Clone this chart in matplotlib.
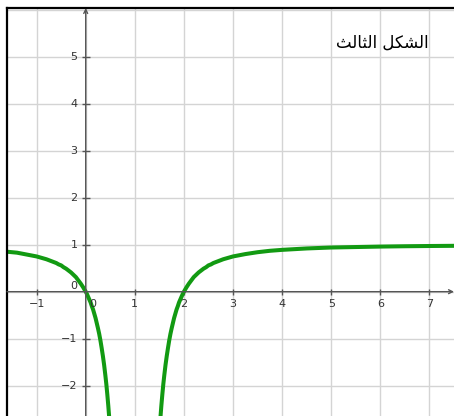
import matplotlib
matplotlib.use("Agg")
import matplotlib.pyplot as plt

# curve samples, left branch (x < 1) and right branch (x > 1)
left_x = [-1.6, -1.4, -1.2, -1.1, -1.0, -0.9, -0.8, -0.7, -0.65, -0.6, -0.55, -0.5,
          -0.45, -0.4, -0.35, -0.3, -0.25, -0.2, -0.15, -0.1, -0.05, 0.0, 0.025,
          0.05, 0.075, 0.1, 0.125, 0.15, 0.175, 0.2, 0.225, 0.25, 0.275, 0.3,
          0.325, 0.35, 0.375, 0.4, 0.42, 0.44, 0.46, 0.48]
left_y = [0.85, 0.83, 0.79, 0.77, 0.75, 0.72, 0.69, 0.65, 0.63, 0.61, 0.58, 0.56,
          0.52, 0.49, 0.45, 0.41, 0.36, 0.31, 0.24, 0.17, 0.09, 0.0, -0.05,
          -0.11, -0.17, -0.23, -0.31, -0.38, -0.47, -0.56, -0.67, -0.78, -0.90, -1.04,
          -1.20, -1.37, -1.56, -1.78, -1.97, -2.19, -2.43, -2.70]
right_x = [1.52, 1.54, 1.56, 1.58, 1.6, 1.625, 1.65, 1.675, 1.7, 1.725, 1.75, 1.775,
           1.8, 1.825, 1.85, 1.875, 1.9, 1.925, 1.95, 1.975, 2.0, 2.05, 2.1, 2.15,
           2.2, 2.25, 2.3, 2.35, 2.4, 2.45, 2.5, 2.55, 2.6, 2.7, 2.8, 2.9, 3.0, 3.1,
           3.25, 3.5, 3.75, 4.0, 4.25, 4.5, 5.0, 5.5, 6.0, 6.5, 7.0, 7.5]
right_y = [-2.70, -2.43, -2.19, -1.97, -1.78, -1.56, -1.37, -1.20, -1.04, -0.90, -0.78,
           -0.67, -0.56, -0.47, -0.38, -0.31, -0.23, -0.17, -0.11, -0.05, 0.0, 0.09,
           0.17, 0.24, 0.31, 0.36, 0.41, 0.45, 0.49, 0.52, 0.56, 0.58, 0.61, 0.65,
           0.69, 0.72, 0.75, 0.77, 0.80, 0.84, 0.87, 0.89, 0.905, 0.92, 0.94, 0.95,
           0.96, 0.967, 0.972, 0.976]

x_ticks = [-1, 1, 2, 3, 4, 5, 6, 7]
y_ticks = [-2, -1, 1, 2, 3, 4, 5]
title = "الشكل الثالث"

# contextual forms: isolated, final, initial, medial
FORMS = {
    "ا": ("\uFE8D", "\uFE8E", None, None),
    "ل": ("\uFEDD", "\uFEDE", "\uFEDF", "\uFEE0"),
    "ش": ("\uFEB5", "\uFEB6", "\uFEB7", "\uFEB8"),
    "ك": ("\uFED9", "\uFEDA", "\uFEDB", "\uFEDC"),
    "ث": ("\uFE99", "\uFE9A", "\uFE9B", "\uFE9C"),
}


def shape_arabic(text):
    out = []
    for i, ch in enumerate(text):
        if ch not in FORMS:
            out.append(ch)
            continue
        prev_ok = i > 0 and text[i - 1] in FORMS and FORMS[text[i - 1]][2] is not None
        next_ok = (i < len(text) - 1 and text[i + 1] in FORMS
                   and FORMS[ch][2] is not None)
        iso, fin, ini, med = FORMS[ch]
        if prev_ok and next_ok:
            out.append(med)
        elif prev_ok:
            out.append(fin)
        elif next_ok:
            out.append(ini)
        else:
            out.append(iso)
    return "".join(reversed(out))


W, H = 454, 416
fig = plt.figure(figsize=(W / 100, H / 100), dpi=100)
ax = fig.add_axes([7 / W, 0, 447 / W, 408 / H])

xmin, xmax = -1.603, 7.5
ymin, ymax = -2.645, 6.036
ax.set_xlim(xmin, xmax)
ax.set_ylim(ymin, ymax)

ax.set_xticks(range(-1, 8))
ax.set_yticks(range(-2, 7))
ax.grid(True, color="#d4d4d4", linewidth=1.0)
ax.set_axisbelow(True)
ax.tick_params(length=0, labelbottom=False, labelleft=False)
for side in ("right", "bottom"):
    ax.spines[side].set_visible(False)
for side in ("left", "top"):
    ax.spines[side].set_color("black")
    ax.spines[side].set_linewidth(1.6)

# coordinate axes with arrow heads
axis_col = "#555555"
ax.annotate("", xy=(xmax, 0), xytext=(xmin, 0),
            arrowprops=dict(arrowstyle="->", color=axis_col, lw=1.0,
                            shrinkA=0, shrinkB=0, mutation_scale=7))
ax.annotate("", xy=(0, ymax), xytext=(0, ymin),
            arrowprops=dict(arrowstyle="->", color=axis_col, lw=1.0,
                            shrinkA=0, shrinkB=0, mutation_scale=7))
ax.plot(x_ticks, [0] * len(x_ticks), ls="none", marker="|", ms=4,
        color=axis_col, mew=1.0)
ax.plot([0] * len(y_ticks), y_ticks, ls="none", marker="_", ms=6,
        color=axis_col, mew=1.0)

lab = dict(fontsize=8, color="#333333", family="DejaVu Sans")
for x in x_ticks:
    ax.annotate("\u2212%d" % -x if x < 0 else str(x), (x, 0), xytext=(0, -9),
                textcoords="offset points", ha="center", va="center", **lab)
for y in y_ticks:
    ax.annotate("\u2212%d" % -y if y < 0 else str(y), (0, y), xytext=(-6, 0),
                textcoords="offset points", ha="right", va="center", **lab)
ax.annotate("0", (0, 0), xytext=(-6, 4), textcoords="offset points",
            ha="right", va="center", **lab)
ax.annotate("0", (0, 0), xytext=(5, -9), textcoords="offset points",
            ha="center", va="center", **lab)

green = "#129a12"
ax.plot(left_x, left_y, color=green, lw=2.9, solid_capstyle="round",
        solid_joinstyle="round")
ax.plot(right_x, right_y, color=green, lw=2.9, solid_capstyle="round",
        solid_joinstyle="round")

ax.text(6.03, 5.29, shape_arabic(title), fontsize=12, color="black",
        family="DejaVu Sans", ha="center", va="center")

fig.savefig("out.png", dpi=100)
